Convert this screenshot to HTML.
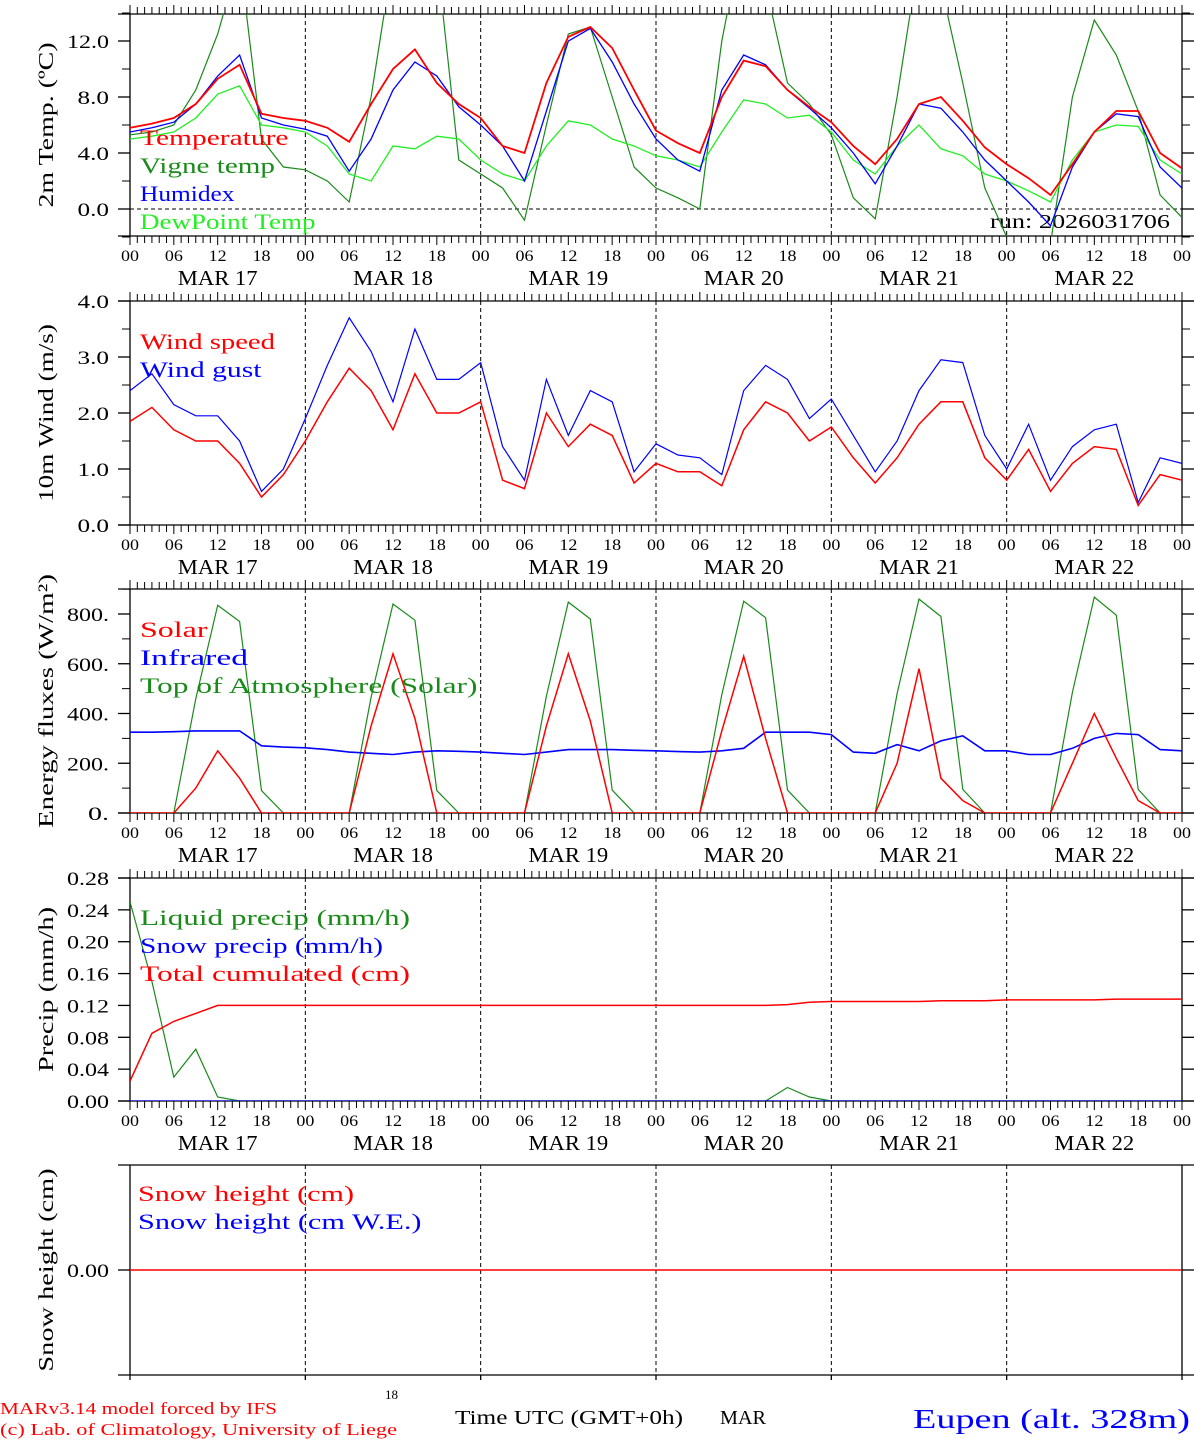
<!DOCTYPE html>
<html><head><meta charset="utf-8">
<style>
html,body{margin:0;padding:0;background:#fff;}
svg{display:block;font-family:"Liberation Serif",serif;}
</style></head>
<body>
<svg id="chart" width="1194" height="1440" viewBox="0 0 1194 1440" xmlns="http://www.w3.org/2000/svg">
<text x="0" y="1414" font-size="17" fill="#f00" textLength="277" lengthAdjust="spacingAndGlyphs">MARv3.14 model forced by IFS</text>
<text x="0" y="1435" font-size="17" fill="#f00" textLength="397" lengthAdjust="spacingAndGlyphs">(c) Lab. of Climatology, University of Liege</text>
<text x="385" y="1399" font-size="13" fill="#000">18</text>
<text x="455" y="1424" font-size="20" fill="#000" textLength="228" lengthAdjust="spacingAndGlyphs">Time UTC (GMT+0h)</text>
<text x="720" y="1424" font-size="20" fill="#000" textLength="46" lengthAdjust="spacingAndGlyphs">MAR</text>
<text x="913" y="1428" font-size="27" fill="#00f" textLength="277" lengthAdjust="spacingAndGlyphs">Eupen (alt. 328m)</text>
<text x="990" y="228" font-size="20" fill="#000" textLength="180" lengthAdjust="spacingAndGlyphs">run: 2026031706</text>
</svg>
<script>
// 3-hourly samples, hour 0..144 from MAR 17 00 UTC
const hours = Array.from({length:49},(_, i)=>i*3);
const dayLabels = ["MAR 17","MAR 18","MAR 19","MAR 20","MAR 21","MAR 22"];
const hourTickLabels = ["00","06","12","18"];
const tempVals = [5.8,6.1,6.5,7.5,9.3,10.3,6.8,6.5,6.3,5.8,4.8,7.5,10.0,11.4,9.0,7.5,6.5,4.5,4.0,9.0,12.3,13.0,11.5,8.5,5.6,4.7,4.0,8.0,10.6,10.2,8.5,7.3,6.2,4.5,3.2,5.0,7.5,8.0,6.3,4.4,3.2,2.2,1.0,3.2,5.5,7.0,7.0,4.0,2.9];
const vigneVals = [5.3,5.5,6.0,8.5,12.5,18,5,3,2.8,2.0,0.5,8,18,20,18,3.5,2.5,1.5,-0.8,6,12.5,13,8,3,1.5,0.8,0,12,20,16,9,7.5,5.3,0.8,-0.7,8,18,16,9,1.5,-2,-3,-2.5,8,13.5,11,7,1,-0.6];
const humidexVals = [5.5,5.8,6.2,7.5,9.5,11.0,6.5,6.0,5.7,5.2,2.7,5.0,8.5,10.5,9.5,7.3,6.0,4.5,2.0,7,12,12.9,10.5,7.5,5.0,3.5,2.7,8.5,11.0,10.3,8.5,7.2,5.8,4.0,1.8,4.5,7.5,7.2,5.5,3.5,2.0,0.5,-1.2,3.0,5.5,6.8,6.6,3.0,1.5];
const dewVals = [5.0,5.2,5.5,6.5,8.2,8.8,6.0,5.8,5.5,4.5,2.5,2.0,4.5,4.3,5.2,5.0,3.5,2.5,2.0,4.5,6.3,6.0,5.0,4.5,3.8,3.5,3.0,5.5,7.8,7.5,6.5,6.7,5.5,3.5,2.5,4.5,6.0,4.3,3.8,2.5,2.0,1.3,0.5,3.5,5.5,6.0,5.9,3.5,2.5];
const windVals = [1.85,2.1,1.7,1.5,1.5,1.1,0.5,0.9,1.5,2.2,2.8,2.4,1.7,2.7,2.0,2.0,2.2,0.8,0.65,2.0,1.4,1.8,1.6,0.75,1.1,0.95,0.95,0.7,1.7,2.2,2.0,1.5,1.75,1.2,0.75,1.2,1.8,2.2,2.2,1.2,0.8,1.35,0.6,1.1,1.4,1.35,0.35,0.9,0.8];
const gustVals = [2.4,2.7,2.15,1.95,1.95,1.5,0.6,1.0,1.9,2.85,3.7,3.1,2.2,3.5,2.6,2.6,2.9,1.4,0.8,2.6,1.6,2.4,2.2,0.95,1.45,1.25,1.2,0.9,2.4,2.85,2.6,1.9,2.25,1.6,0.95,1.5,2.4,2.95,2.9,1.6,1.0,1.8,0.8,1.4,1.7,1.8,0.4,1.2,1.1];
const solarVals = [0,0,0,100,250,140,0,0, 0,0,0,350,640,380,0,0, 0,0,0,350,640,370,0,0, 0,0,0,330,630,300,0,0, 0,0,0,200,580,140,50,0, 0,0,0,200,400,220,50,0, 0];
const irVals = [325,325,327,330,330,330,270,265,262,255,245,240,235,245,250,248,245,240,235,245,255,255,255,252,250,247,245,250,260,325,325,325,315,245,240,275,250,290,310,250,250,235,235,260,300,320,315,255,250];
const toaVals = [0,0,0,460,835,770,90,0, 0,0,0,465,840,775,90,0, 0,0,0,470,848,780,92,0, 0,0,0,475,852,785,92,0, 0,0,0,480,860,790,95,0, 0,0,0,485,868,795,95,0, 0];
const liquidVals = [0.25,0.15,0.03,0.065,0.005,0,0,0,0,0,0,0,0,0,0,0,0,0,0,0,0,0,0,0,0,0,0,0,0,0,0.017,0.005,0,0,0,0,0,0,0,0,0,0,0,0,0,0,0,0,0];
const snowPrecipVals = hours.map(()=>0);
const cumulVals = [0.025,0.085,0.1,0.11,0.12,0.12,0.12,0.12,0.12,0.12,0.12,0.12,0.12,0.12,0.12,0.12,0.12,0.12,0.12,0.12,0.12,0.12,0.12,0.12,0.12,0.12,0.12,0.12,0.12,0.12,0.121,0.124,0.125,0.125,0.125,0.125,0.125,0.126,0.126,0.126,0.127,0.127,0.127,0.127,0.127,0.128,0.128,0.128,0.128];
const snowHeightVals = hours.map(()=>0);

const NS="http://www.w3.org/2000/svg";
const svg=document.getElementById('chart');
const X0=130,X1=1182;
const xs=h=>X0+(X1-X0)*h/144;
function mk(tag,attrs,parent){const e=document.createElementNS(NS,tag);for(const k in attrs)e.setAttribute(k,attrs[k]);(parent||svg).appendChild(e);return e;}
function fit(t,cw){t.setAttribute('textLength',(t.textContent.length*cw).toFixed(1));t.setAttribute('lengthAdjust','spacingAndGlyphs');}

const panels=[
 {name:'temp',top:14,bot:236,y0:209,k:14,ticks:[0,4,8,12],minor:[-2,2,6,10,14],fmt:v=>v.toFixed(1),title:'2m Temp. (ºC)',zero:true,xl:true},
 {name:'wind',top:301,bot:525,y0:525,k:56,ticks:[0,1,2,3,4],minor:[0.5,1.5,2.5,3.5],fmt:v=>v.toFixed(1),title:'10m Wind (m/s)',xl:true},
 {name:'energy',top:589,bot:813,y0:813,k:0.24875,ticks:[0,200,400,600,800],minor:[100,300,500,700,900],fmt:v=>v+'.',title:'Energy fluxes (W/m²)',xl:true},
 {name:'precip',top:878,bot:1101,y0:1101,k:796.4,ticks:[0,0.04,0.08,0.12,0.16,0.20,0.24,0.28],minor:[],fmt:v=>v.toFixed(2),title:'Precip (mm/h)',xl:true},
 {name:'snow',top:1165,bot:1375,y0:1270,k:100,ticks:[0],minor:[],fmt:v=>v.toFixed(2),title:'Snow height (cm)',xl:false}
];

panels.forEach(p=>{
 const g=mk('g',{});
 
 
 const ys=v=>p.y0-p.k*v; p.ys=ys;
 mk('line',{x1:118,y1:p.top,x2:1194,y2:p.top,stroke:'#000','stroke-width':1.3},g);
 mk('line',{x1:118,y1:p.bot,x2:1194,y2:p.bot,stroke:'#000','stroke-width':1.3},g);
 mk('line',{x1:X0,y1:p.top,x2:X0,y2:p.bot,stroke:'#000','stroke-width':1.3},g);
 mk('line',{x1:X1,y1:p.top,x2:X1,y2:p.bot,stroke:'#000','stroke-width':1.3},g);
 for(let d=1;d<6;d++){const l=mk('line',{x1:xs(d*24),y1:p.top,x2:xs(d*24),y2:p.bot,stroke:'#000','stroke-width':1,'stroke-dasharray':'4,3'},g);
  
  }
 if(p.zero){const z=mk('line',{x1:X0,y1:ys(0),x2:X1,y2:ys(0),stroke:'#000','stroke-width':1,'stroke-dasharray':'4,3'},g);
  
  }
 if(p.xl){for(let h=0;h<=144;h++){const x=xs(h);const L=(h%6==0)?9:7;
  mk('line',{x1:x,y1:p.top-L,x2:x,y2:p.top,stroke:'#000','stroke-width':1},g);
  mk('line',{x1:x,y1:p.bot,x2:x,y2:p.bot+L,stroke:'#000','stroke-width':1},g);}
  for(let h=0;h<=144;h+=6){const t=mk('text',{x:xs(h),y:p.bot+25,'font-size':16,'text-anchor':'middle',fill:'#000'},g);t.textContent=hourTickLabels[(h/6)%4];fit(t,9);
   
   }
  dayLabels.forEach((d,i)=>{const t=mk('text',{x:xs(i*24+12),y:p.bot+49,'font-size':21,'text-anchor':'middle',fill:'#000'},g);t.textContent=d;fit(t,13.3);
   
   });
 } else {
  for(let d=0;d<=6;d++) mk('line',{x1:xs(d*24),y1:p.bot,x2:xs(d*24),y2:p.bot+5,stroke:'#000','stroke-width':1.3},g);
 }
 p.ticks.forEach(v=>{const y=ys(v);mk('line',{x1:118,y1:y,x2:X0,y2:y,stroke:'#000','stroke-width':1.3},g);
  mk('line',{x1:X1,y1:y,x2:1194,y2:y,stroke:'#000','stroke-width':1.3},g);
  const t=mk('text',{x:109,y:y+7,'font-size':19,'text-anchor':'end',fill:'#000'},g);t.textContent=p.fmt(v);fit(t,10.5);
  
  });
 p.minor.forEach(v=>{const y=ys(v);if(y<p.top-1||y>p.bot+1)return;mk('line',{x1:122,y1:y,x2:X0,y2:y,stroke:'#000','stroke-width':1},g);mk('line',{x1:X1,y1:y,x2:1190,y2:y,stroke:'#000','stroke-width':1},g);});
 const cy=(p.top+p.bot)/2;
 const tt=mk('text',{x:0,y:0,'font-size':21,'text-anchor':'middle',fill:'#000',transform:`translate(53,${cy}) rotate(-90)`},g);
 tt.textContent=p.title;fit(tt,12.7);
 
 
 const cp=mk('clipPath',{id:'clip-'+p.name},g);mk('rect',{x:X0,y:p.top,width:X1-X0,height:p.bot-p.top},cp);
});

function series(pi,vals,color,name,w){
 const p=panels[pi];
 const pts=vals.map((v,i)=>xs(hours[i]).toFixed(1)+','+p.ys(v).toFixed(1)).join(' ');
 const l=mk('polyline',{points:pts,fill:'none',stroke:color,'stroke-width':w||1.2,'clip-path':`url(#clip-${p.name})`});
 
 
}
function legend(x,y,txt,color,name){
 const t=mk('text',{x:x,y:y,'font-size':22,fill:color});t.textContent=txt;fit(t,13.5);
 
 
}
series(0,vigneVals,'#1a8a1a','vigne-temp-line',1.2);
series(0,dewVals,'#22ee22','dewpoint-line',1.3);
series(0,humidexVals,'#0000ff','humidex-line',1.3);
series(0,tempVals,'#ff0000','temperature-line',1.8);
legend(140,145,'Temperature','#f00','legend-temperature');
legend(140,173,'Vigne temp','#1a8a1a','legend-vigne-temp');
legend(140,201,'Humidex','#00f','legend-humidex');
legend(140,229,'DewPoint Temp','#22ee22','legend-dewpoint');

series(1,gustVals,'#0000ff','wind-gust-line',1.2);
series(1,windVals,'#ff0000','wind-speed-line',1.5);
legend(140,349,'Wind speed','#f00','legend-wind-speed');
legend(140,377,'Wind gust','#00f','legend-wind-gust');

series(2,toaVals,'#1a8a1a','toa-solar-line',1.2);
series(2,irVals,'#0000ff','infrared-line',1.6);
series(2,solarVals,'#ff0000','solar-line',1.5);
legend(140,637,'Solar','#f00','legend-solar');
legend(140,665,'Infrared','#00f','legend-infrared');
legend(140,693,'Top of Atmosphere (Solar)','#1a8a1a','legend-toa');

series(3,liquidVals,'#1a8a1a','liquid-precip-line',1.2);
series(3,snowPrecipVals,'#0000ff','snow-precip-line',1.2);
series(3,cumulVals,'#ff0000','cumulated-precip-line',1.5);
legend(140,925,'Liquid precip (mm/h)','#1a8a1a','legend-liquid-precip');
legend(140,953,'Snow precip (mm/h)','#00f','legend-snow-precip');
legend(140,981,'Total cumulated (cm)','#f00','legend-total-cumulated');

series(4,snowHeightVals,'#ff0000','snow-height-line',1.5);
legend(138,1201,'Snow height (cm)','#f00','legend-snow-height');
legend(138,1229,'Snow height (cm W.E.)','#00f','legend-snow-we');
</script>
</body></html>
